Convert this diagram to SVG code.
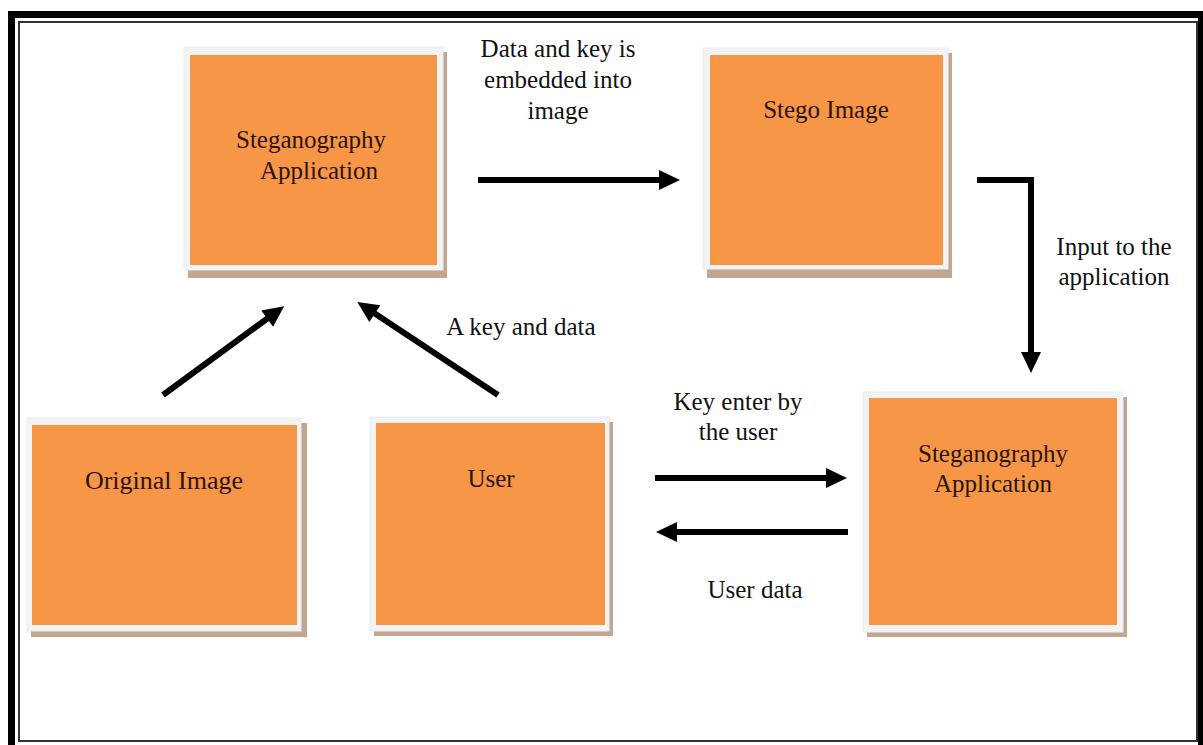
<svg xmlns="http://www.w3.org/2000/svg" width="1203" height="745" viewBox="0 0 1203 745">
<defs>
<style>
.frame{fill:#f3f3f3;stroke:#e6eef5;stroke-width:1}
.shadow{fill:#c3a68f}
.fill{fill:#f79646}
.nt{font-family:"Liberation Serif","Times New Roman",serif;font-size:25px;fill:#2a1405;text-anchor:middle}
.lbl{font-family:"Liberation Serif","Times New Roman",serif;font-size:25px;fill:#111;text-anchor:middle}
.conn{stroke:#000;stroke-width:6;fill:none}
</style>
<marker id="ah" markerUnits="userSpaceOnUse" markerWidth="22" markerHeight="22" refX="1" refY="10" orient="auto" overflow="visible">
<path d="M0,0 L21,10 L0,20 Z" fill="#000"/>
</marker>
</defs>
<rect width="1203" height="745" fill="#fff"/>
<g id="border">
<path d="M11.5,745 V14.5 H1201.5 V745" fill="none" stroke="#000" stroke-width="7"/>
<rect x="19" y="22" width="1178" height="719" fill="none" stroke="#333" stroke-width="2"/>
</g>
<g id="node-steg-app-top">
<rect class="shadow" x="188" y="52" width="259" height="226"/>
<rect class="frame" x="184" y="47" width="259" height="223"/>
<rect class="fill" x="190" y="55" width="247" height="210"/>
<text class="nt" x="311" y="148">Steganography</text>
<text class="nt" x="319" y="179">Application</text>
</g>
<g id="node-stego-image">
<rect class="shadow" x="707" y="53" width="245" height="225"/>
<rect class="frame" x="703" y="48" width="245" height="221"/>
<rect class="fill" x="710" y="55" width="233" height="210"/>
<text class="nt" x="826" y="118">Stego Image</text>
</g>
<g id="node-original-image">
<rect class="shadow" x="31" y="423" width="276" height="214"/>
<rect class="frame" x="27" y="418" width="274" height="213"/>
<rect class="fill" x="32" y="425" width="265" height="200"/>
<text class="nt" x="164" y="489" style="font-size:26px">Original Image</text>
</g>
<g id="node-user">
<rect class="shadow" x="374" y="422" width="239" height="214"/>
<rect class="frame" x="370" y="417" width="239" height="214"/>
<rect class="fill" x="376" y="423" width="229" height="202"/>
<text class="nt" x="491" y="487">User</text>
</g>
<g id="node-steg-app-bottom">
<rect class="shadow" x="867" y="397" width="260" height="240"/>
<rect class="frame" x="863" y="392" width="260" height="240"/>
<rect class="fill" x="869" y="398" width="248" height="227"/>
<text class="nt" x="993" y="462">Steganography</text>
<text class="nt" x="993" y="492">Application</text>
</g>
<g id="connectors">
<line class="conn" x1="478" y1="180" x2="660" y2="180" marker-end="url(#ah)"/>
<path class="conn" d="M977,180 H1031 V353" marker-end="url(#ah)"/>
<line class="conn" x1="655" y1="478" x2="827" y2="478" marker-end="url(#ah)"/>
<line class="conn" x1="848" y1="532" x2="676" y2="532" marker-end="url(#ah)"/>
<line class="conn" x1="163" y1="395" x2="268" y2="318" marker-end="url(#ah)"/>
<line class="conn" x1="498" y1="395" x2="374" y2="313" marker-end="url(#ah)"/>
</g>
<g id="labels">
<text class="lbl" x="558" y="57">Data and key is</text>
<text class="lbl" x="558" y="88">embedded into</text>
<text class="lbl" x="558" y="119">image</text>
<text class="lbl" x="1114" y="255">Input to the</text>
<text class="lbl" x="1114" y="285">application</text>
<text class="lbl" x="521" y="335">A key and data</text>
<text class="lbl" x="738" y="410">Key enter by</text>
<text class="lbl" x="738" y="440">the user</text>
<text class="lbl" x="755" y="598">User data</text>
</g>
</svg>
